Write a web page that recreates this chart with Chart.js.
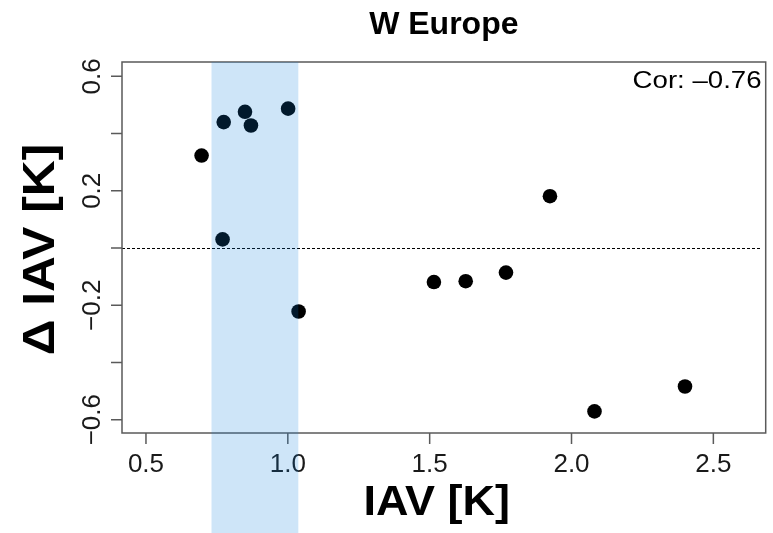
<!DOCTYPE html>
<html lang="en">
<head>
    <meta charset="UTF-8">
    <title>W Europe</title>
    <script src="https://cdn.jsdelivr.net/npm/chart.js"></script>
    <style>
        body { margin: 0; background: #fff; }
    </style>
</head>
<body>
    <canvas id="grafico" width="773" height="533"></canvas>

    <script>
        // IAV (x) and change in IAV (y) per model
        const iav = [0.696, 0.774, 0.849, 0.870, 1.001, 0.770, 1.038, 1.515, 1.627, 1.769, 1.924, 2.081, 2.400];
        const deltaIav = [0.323, 0.440, 0.476, 0.428, 0.487, 0.030, -0.222, -0.119, -0.116, -0.086, 0.181, -0.571, -0.484];
        // observed range (blue band)
        const banda = [0.731, 1.037];
        const xTicks = [0.5, 1.0, 1.5, 2.0, 2.5];
        const yTicks = [-0.6, -0.4, -0.2, 0, 0.2, 0.4, 0.6];
        const yLabels = [-0.6, -0.2, 0.2, 0.6];
        const correlacion = -0.76;
        const titulo = "W Europe";
        const tituloX = "IAV [K]";
        const tituloY = "Δ IAV [K]";

        const fuente = '"Liberation Sans", Arimo, Arial, sans-serif';
        const menos = v => v.toFixed(1).replace("-", "\u2212");

        // text helper: position, rotation and stretch along the text
        function texto(ctx, s, x, y, rot, sx) {
            ctx.save();
            ctx.translate(x, y);
            ctx.rotate(rot);
            ctx.scale(sx, 1);
            ctx.fillText(s, 0, 0);
            ctx.restore();
        }

        // everything R draws around the box, done by hand
        const ejesR = {
            id: "ejesR",
            afterDatasetsDraw(chart) {
                const { ctx, chartArea: a, scales: { x, y } } = chart;
                ctx.save();

                // dashed zero line
                const y0 = Math.round(y.getPixelForValue(0)) + 0.5;
                ctx.strokeStyle = "#000";
                ctx.lineWidth = 1;
                ctx.setLineDash([3, 2]);
                ctx.beginPath();
                ctx.moveTo(a.left, y0);
                ctx.lineTo(a.right - 4, y0);
                ctx.stroke();
                ctx.setLineDash([]);

                // box
                ctx.strokeStyle = "#5a5a5a";
                ctx.lineWidth = 1.5;
                ctx.strokeRect(a.left, a.top, a.right - a.left, a.bottom - a.top);

                // tick marks
                ctx.beginPath();
                xTicks.forEach(v => {
                    const px = x.getPixelForValue(v);
                    ctx.moveTo(px, a.bottom);
                    ctx.lineTo(px, a.bottom + 11);
                });
                yTicks.forEach(v => {
                    const py = y.getPixelForValue(v);
                    ctx.moveTo(a.left, py);
                    ctx.lineTo(a.left - 11, py);
                });
                ctx.stroke();

                // tick labels
                ctx.fillStyle = "#1a1a1a";
                ctx.font = "26px " + fuente;
                ctx.textAlign = "center";
                ctx.textBaseline = "alphabetic";
                xTicks.forEach(v => texto(ctx, menos(v), x.getPixelForValue(v), 471.5, 0, 1));
                yLabels.forEach(v => texto(ctx, menos(v), 99.5, y.getPixelForValue(v), -Math.PI / 2, 1));

                // correlation
                ctx.fillStyle = "#000";
                ctx.textAlign = "right";
                ctx.font = "24px " + fuente;
                const cor = (correlacion < 0 ? "\u2013" : "") + Math.abs(correlacion).toFixed(2);
                texto(ctx, "Cor: " + cor, 761.5, 88, 0, 1.15);

                // titles
                ctx.textAlign = "center";
                ctx.font = "bold 32px " + fuente;
                texto(ctx, titulo, (a.left + a.right) / 2, 33.5, 0, 1);
                ctx.font = "bold 42px " + fuente;
                texto(ctx, tituloX, 436.7, 514.5, 0, 1.07);
                ctx.font = "bold 44px " + fuente;
                texto(ctx, tituloY, 53.5, 249.5, -Math.PI / 2, 1.13);

                // translucent band on top, down to the bottom edge
                const x0 = x.getPixelForValue(banda[0]);
                const x1 = x.getPixelForValue(banda[1]);
                ctx.fillStyle = "rgba(10, 124, 219, 0.2)";
                ctx.fillRect(x0, a.top, x1 - x0, chart.height - a.top);

                ctx.restore();
            }
        };

        new Chart(document.getElementById("grafico"), {
            type: "scatter",
            data: {
                datasets: [{
                    data: iav.map((v, i) => ({ x: v, y: deltaIav[i] })),
                    backgroundColor: "#000",
                    borderWidth: 0,
                    pointRadius: 7.3,
                    pointHoverRadius: 7.3
                }]
            },
            options: {
                responsive: false,
                animation: false,
                layout: { padding: { left: 122, right: 6, top: 62, bottom: 100 } },
                scales: {
                    x: { type: "linear", min: 0.4155, max: 2.6845, display: false },
                    y: { type: "linear", min: -0.6465, max: 0.65, display: false }
                },
                plugins: {
                    legend: { display: false },
                    tooltip: { enabled: false }
                }
            },
            plugins: [ejesR]
        });
    </script>
</body>
</html>
